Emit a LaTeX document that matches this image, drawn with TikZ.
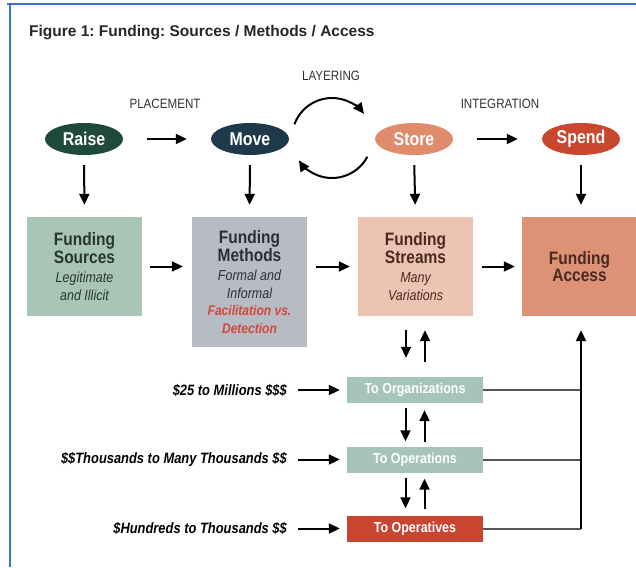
\documentclass[tikz,border=0pt]{standalone}
\usepackage{fontspec}
\setmainfont{Liberation Sans}
\newfontfamily\condf[FakeStretch=0.86]{Liberation Sans}
\usetikzlibrary{arrows.meta,shapes.geometric}
\definecolor{bordblue}{HTML}{3D6FD6}
\definecolor{raisec}{HTML}{1F4A3A}
\definecolor{movec}{HTML}{1E3A4A}
\definecolor{storec}{HTML}{DE8C6C}
\definecolor{spendc}{HTML}{C9472E}
\definecolor{srcc}{HTML}{A9C5B8}
\definecolor{methc}{HTML}{B6BBC4}
\definecolor{strmc}{HTML}{EDC4B3}
\definecolor{accc}{HTML}{DD9276}
\definecolor{orgc}{HTML}{A7C4B8}
\definecolor{opvc}{HTML}{C8452F}
\definecolor{srctx}{HTML}{27372F}
\definecolor{methtx}{HTML}{2B2F3A}
\definecolor{strmtx}{HTML}{4A2A20}
\definecolor{redtx}{HTML}{D2483A}
\definecolor{lnc}{HTML}{555555}
\frenchspacing
\begin{document}
\begin{tikzpicture}[x=1pt,y=-1pt,
  stage/.style={ellipse,minimum width=78pt,minimum height=32pt,inner sep=0pt,
    text=white,font=\condf\bfseries\fontsize{18.5}{20}\selectfont},
  bigbox/.style={rectangle,minimum width=115pt,inner sep=0pt,align=center,
    font=\condf\bfseries\fontsize{18}{17.5}\selectfont},
  smallbox/.style={rectangle,minimum width=136pt,minimum height=26pt,inner sep=0pt,
    text=white,font=\condf\bfseries\fontsize{14.5}{16}\selectfont},
  steplbl/.style={text=black!80,font=\condf\fontsize{13.5}{15}\selectfont},
  amtlbl/.style={anchor=east,inner sep=0pt,font=\condf\bfseries\itshape\fontsize{15}{17}\selectfont},
  arr/.style={line width=2pt,-{Triangle[length=11pt,width=10pt]}},
  ln/.style={line width=2pt,lnc}
]
\useasboundingbox (0,0) rectangle (636,567);
\fill[white] (0,0) rectangle (636,567);
\draw[bordblue,line width=1.5pt] (7,4) -- (636,4);
\draw[bordblue,line width=2.5pt] (10,4) -- (10,567);

\node[anchor=west,inner sep=0pt,font=\bfseries\fontsize{15.5}{17}\selectfont,text=black!85] (title) at (29,33)
  {Figure 1: Funding: Sources / Methods / Access};

\node[steplbl] (layer) at (331,76) {LAYERING};
\node[steplbl] (place) at (165,104) {PLACEMENT};
\node[steplbl] (integ) at (500,104) {INTEGRATION};

\node[stage,fill=raisec] (raise) at (84,139) {Raise};
\node[stage,fill=movec] (move) at (250,139) {Move};
\node[stage,fill=storec] (store) at (414,139) {Store};
\node[stage,fill=spendc] (spend) at (581,139) {Spend};

\draw[arr,shorten <=24pt,shorten >=24pt] (raise.east) -- (move.west);
\draw[arr,shorten <=24pt,shorten >=24pt] (store.east) -- (spend.west);

% layering loop
\draw[arr] (332,138) ++(200:40) arc[start angle=200,end angle=323,radius=40];
\draw[arr] (332,138) ++(28:40) arc[start angle=28,end angle=146,radius=40];

\node[bigbox,fill=srcc,text=srctx,minimum height=99pt] (src) at (84.5,266.5)
  {Funding\\Sources\\[2pt]{\mdseries\itshape\fontsize{14.5}{17.5}\selectfont Legitimate}\\{\mdseries\itshape\fontsize{14.5}{17.5}\selectfont and Illicit}};
\node[bigbox,fill=methc,text=methtx,minimum height=130pt] (meth) at (249.5,282)
  {Funding\\Methods\\[2pt]{\mdseries\itshape\fontsize{14.5}{17.5}\selectfont Formal and}\\{\mdseries\itshape\fontsize{14.5}{17.5}\selectfont Informal}\\{\color{redtx}\itshape\fontsize{14}{17.5}\selectfont Facilitation vs.}\\{\color{redtx}\itshape\fontsize{14}{17.5}\selectfont Detection}};
\node[bigbox,fill=strmc,text=strmtx,minimum height=99pt] (strm) at (415.5,266.5)
  {Funding\\Streams\\[2pt]{\mdseries\itshape\fontsize{14.5}{17.5}\selectfont Many}\\{\mdseries\itshape\fontsize{14.5}{17.5}\selectfont Variations}};
\node[bigbox,fill=accc,text=strmtx,minimum height=99pt] (acc) at (579.5,266.5)
  {Funding\\Access};

\draw[arr,shorten <=10pt,shorten >=12pt] (raise.south) -- (src.north);
\draw[arr,shorten <=10pt,shorten >=12pt] (move.south) -- (meth.north);
\draw[arr,shorten <=10pt,shorten >=12pt] (store.south) -- (strm.north);
\draw[arr,shorten <=10pt,shorten >=12pt] (spend.south) -- (spend.south |- acc.north);

\draw[arr,shorten <=8pt,shorten >=9pt] (src.east) -- (src.east -| meth.west);
\draw[arr,shorten <=9pt,shorten >=8pt] (strm.west -| meth.east) -- (strm.west);
\draw[arr,shorten <=9pt,shorten >=7pt] (strm.east) -- (acc.west);

\node[smallbox,fill=orgc] (org) at (415,390) {To Organizations};
\node[smallbox,fill=orgc] (opn) at (415,459.5) {To Operations};
\node[smallbox,fill=opvc] (opv) at (415,528.5) {To Operatives};

\node[amtlbl] (a1) at (287,390) {\$25 to Millions \$\$\$};
\node[amtlbl] (a2) at (287,459.5) {\$\$Thousands to Many Thousands \$\$};
\node[amtlbl] (a3) at (287,528.5) {\$Hundreds to Thousands \$\$};

\draw[arr,shorten <=11pt,shorten >=7pt] (a1.east) -- (org.west);
\draw[arr,shorten <=11pt,shorten >=7pt] (a2.east) -- (opn.west);
\draw[arr,shorten <=11pt,shorten >=7pt] (a3.east) -- (opv.west);

% up/down pairs
\draw[arr,shorten <=14pt,shorten >=19pt] ([xshift=-9.5pt]strm.south) -- ([xshift=-9.5pt]strm.south |- org.north);
\draw[arr,shorten <=15pt,shorten >=14pt] ([xshift=9.5pt]strm.south |- org.north) -- ([xshift=9.5pt]strm.south);
\draw[arr,shorten <=5pt,shorten >=5pt] ([xshift=-9.5pt]org.south) -- ([xshift=-9.5pt]opn.north);
\draw[arr,shorten <=4pt,shorten >=7pt] ([xshift=9.5pt]opn.north) -- ([xshift=9.5pt]org.south);
\draw[arr,shorten <=5pt,shorten >=7pt] ([xshift=-9.5pt]opn.south) -- ([xshift=-9.5pt]opv.north);
\draw[arr,shorten <=6pt,shorten >=6pt] ([xshift=9.5pt]opv.north) -- ([xshift=9.5pt]opn.south);

% bus to access
\coordinate (busb) at (581,528.5);
\draw[ln] (org.east) -- (org.east -| busb);
\draw[ln] (opn.east) -- (opn.east -| busb);
\draw[ln] (opv.east) -- (busb);
\draw[ln,-{Triangle[length=11pt,width=10pt]},black,shorten >=14pt] (busb) -- (busb |- acc.south);
\end{tikzpicture}
\end{document}
